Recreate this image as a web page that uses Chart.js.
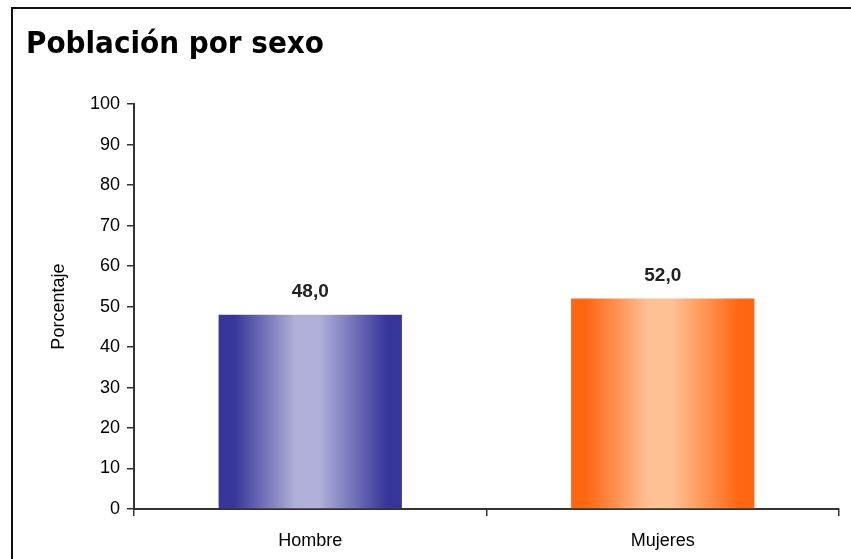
<!DOCTYPE html>
<html>
<head>
<meta charset="utf-8">
<script src="https://cdn.jsdelivr.net/npm/chart.js@4/dist/chart.umd.min.js"></script>
<style>
  body { margin: 0; background: #fff; }
  #wrap { position: relative; width: 851px; height: 559px; overflow: hidden; }
  #frame { position: absolute; left: 11px; top: 7px; width: 900px; height: 600px;
           border-left: 2px solid #111; border-top: 2px solid #111; }
  canvas { position: absolute; left: 0; top: 0; }
</style>
</head>
<body>
<div id="wrap">
  <div id="frame"></div>
  <canvas id="barChart" width="851" height="559"></canvas>
</div>
<script>
// data
const categories = ['Hombre', 'Mujeres'];
const values = [48.0, 52.0];
const yMin = 0;
const yMax = 100;
const yStep = 10;
const chartTitle = 'Población por sexo';
const yTitle = 'Porcentaje';

// edge / middle colours of the shaded bars
const edgeColors = ['#35359a', '#ff6612'];
const midColors = ['#b0b0d8', '#ffc194'];

function barFill(context) {
    const chart = context.chart;
    const xScale = chart.scales.x;
    if (!chart.chartArea || !xScale) return edgeColors[context.dataIndex];
    const i = context.dataIndex;
    const cx = xScale.getPixelForValue(i);
    const half = (chart.chartArea.width / categories.length) * 0.52 / 2;
    const g = chart.ctx.createLinearGradient(cx - half, 0, cx + half, 0);
    g.addColorStop(0, edgeColors[i]);
    g.addColorStop(0.08, edgeColors[i]);
    g.addColorStop(0.42, midColors[i]);
    g.addColorStop(0.55, midColors[i]);
    g.addColorStop(0.92, edgeColors[i]);
    g.addColorStop(1, edgeColors[i]);
    return g;
}

// draws the value above each bar, with a decimal comma
const valueLabels = {
    id: 'valueLabels',
    afterDatasetsDraw(chart) {
        const ctx = chart.ctx;
        const meta = chart.getDatasetMeta(0);
        ctx.save();
        ctx.font = 'bold 19px "Liberation Sans", Arial, sans-serif';
        ctx.fillStyle = '#222';
        ctx.textAlign = 'center';
        ctx.textBaseline = 'bottom';
        meta.data.forEach((bar, i) => {
            const txt = values[i].toFixed(1).replace('.', ',');
            ctx.fillText(txt, bar.x, bar.y - 13);
        });
        ctx.restore();
    }
};

const tickFont = { family: '"Liberation Sans", Arial, sans-serif', size: 18 };

new Chart(document.getElementById('barChart'), {
    type: 'bar',
    data: {
        labels: categories,
        datasets: [{
            data: values,
            backgroundColor: barFill,
            borderWidth: 0,
            categoryPercentage: 1,
            barPercentage: 0.52
        }]
    },
    options: {
        responsive: false,
        animation: false,
        layout: { padding: { left: 26, right: 12, top: 0, bottom: 0 } },
        plugins: {
            legend: { display: false },
            tooltip: { enabled: false },
            title: {
                display: true,
                text: chartTitle,
                align: 'start',
                color: '#000',
                font: { family: '"DejaVu Sans Condensed", "DejaVu Sans", sans-serif', weight: 'bold', size: 31 },
                padding: { top: 26, bottom: 41 }
            }
        },
        scales: {
            x: {
                offset: true,
                grid: { drawOnChartArea: false, drawTicks: true, tickLength: 7, offset: true, color: '#333', lineWidth: 1.5 },
                border: { display: true, color: '#333', width: 2 },
                ticks: { font: tickFont, color: '#000', padding: 14 },
                afterFit: s => { s.height = 50; }
            },
            y: {
                min: yMin,
                max: yMax,
                ticks: { stepSize: yStep, font: tickFont, color: '#000', padding: 7 },
                grid: { drawOnChartArea: false, drawTicks: true, tickLength: 7, color: '#333', lineWidth: 1.5 },
                border: { display: true, color: '#333', width: 2 },
                title: {
                    display: true,
                    text: yTitle,
                    color: '#000',
                    font: tickFont,
                    padding: { top: 22, bottom: 0 }
                },
                afterFit: s => { s.width = 108; }
            }
        }
    },
    plugins: [valueLabels]
});
</script>
</body>
</html>
